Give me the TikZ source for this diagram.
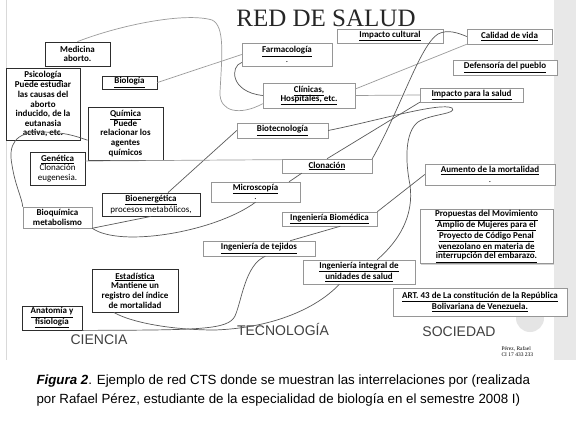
\documentclass[tikz,border=0pt]{standalone}
\usepackage{fontspec}
\setmainfont{Carlito}
\newfontfamily\arialf{Liberation Sans}
\newfontfamily\timesf{Liberation Serif}
\usetikzlibrary{shadows, calc}
\definecolor{bordeOscuro}{RGB}{45, 45, 45}
\definecolor{bordeClaro}{RGB}{150, 150, 150}
\definecolor{lineaGris}{RGB}{90, 90, 90}
\definecolor{lineaClara}{RGB}{155, 155, 155}
\definecolor{franjaGris}{RGB}{232, 232, 232}

\begin{document}
\begin{tikzpicture}[
    x=1pt, y=-1pt,
    caja/.style={
        rectangle,
        draw=bordeOscuro,
        line width=0.8pt,
        fill=white,
        align=center,
        inner sep=1pt,
        font=\fontsize{9}{9.6}\selectfont\bfseries,
        drop shadow={shadow xshift=1.2pt, shadow yshift=-1.2pt, fill=black!35}
    },
    cajaclara/.style={
        caja,
        draw=bordeClaro,
        line width=0.5pt
    },
    enlace/.style={
        draw=lineaGris,
        line width=0.7pt
    },
    enlaceclaro/.style={
        draw=lineaClara,
        line width=0.7pt
    },
    rotulo/.style={
        font=\arialf\fontsize{14}{14}\selectfont,
        text=black!75
    }
]

% Fondo y marco
\useasboundingbox (0,0) rectangle (576,431);
\fill[white] (0,0) rectangle (576,431);
\fill[franjaGris] (554,0) rectangle (576,360);
\draw[black!15, line width=1pt] (6,0) -- (6,360);
\fill[black!10] (530,318) circle (14);

% Titulo
\node[font=\timesf\fontsize{25}{27}\selectfont, text=black!85] (titulo) at (326,18) {RED DE SALUD};

% Ciencia
\node[caja, minimum width=65, minimum height=24] (medicina) at (77.5,54) {Medicina\\aborto.};
\node[caja, minimum width=74, minimum height=72] (psico) at (43,104) {\underline{Psicología}\\Puede estudiar\\las causas del\\aborto\\inducido,  de la\\eutanasia\\activa, etc.};
\node[caja, minimum width=55, minimum height=13] (biologia) at (129.5,82.5) {\underline{Biología}};
\node[caja, minimum width=75, minimum height=53] (quimica) at (125.5,133.5) {\underline{Química}\\Puede\\relacionar los\\agentes\\químicos};
\node[caja, minimum width=55, minimum height=33] (genetica) at (57.5,168.5) {\underline{Genética}\\{\mdseries Clonación}\\{\mdseries eugenesia.}};
\node[cajaclara, minimum width=69, minimum height=21] (bioquim) at (57.5,217.5) {Bioquímica\\metabolismo};
\node[caja, minimum width=98, minimum height=23] (bioener) at (151,204.5) {\underline{Bioenergética}\\{\mdseries procesos metabólicos,}};
\node[caja, minimum width=86, minimum height=43] (estad) at (135,290.5) {\underline{Estadística}\\Mantiene un\\registro del índice\\de mortalidad};
\node[caja, minimum width=60, minimum height=24] (anatomia) at (52,318) {\underline{Anatomía y}\\\underline{fisiología}};

% Tecnologia
\node[cajaclara, minimum width=90, minimum height=23] (farma) at (287,54.5) {\underline{Farmacología}\\{\mdseries .}};
\node[cajaclara, minimum width=92, minimum height=25] (clinicas) at (309,95.5) {\underline{Clínicas,}\\\underline{Hospitales, etc.}};
\node[cajaclara, minimum width=91, minimum height=15] (biotec) at (282.5,130.5) {\underline{Biotecnología}};
\node[cajaclara, minimum width=90, minimum height=14] (clonacion) at (327,166) {\underline{Clonación}};
\node[cajaclara, minimum width=89, minimum height=20] (micro) at (255.5,192) {\underline{Microscopía}\\{\mdseries .}};
\node[cajaclara, minimum width=95, minimum height=14] (ingbio) at (329.5,219) {\underline{Ingeniería Biomédica}};
\node[cajaclara, minimum width=112, minimum height=15] (ingtej) at (259,248.5) {\underline{Ingeniería de tejidos}};
\node[cajaclara, minimum width=112, minimum height=24] (ingint) at (359,272) {\underline{Ingeniería integral de}\\\underline{unidades de salud}};

% Sociedad
\node[cajaclara, minimum width=106, minimum height=14] (impcult) at (390,36) {\underline{Impacto cultural}};
\node[cajaclara, minimum width=85, minimum height=15] (calidad) at (509.5,36.5) {\underline{Calidad de vida}};
\node[cajaclara, minimum width=104, minimum height=15] (defensa) at (505,67.5) {\underline{Defensoría del pueblo}};
\node[cajaclara, minimum width=103, minimum height=14] (impsalud) at (471.5,95) {\underline{Impacto para la salud}};
\node[cajaclara, minimum width=130, minimum height=21] (aumento) at (490,174.5) {\underline{Aumento de la mortalidad}\\{\mdseries .}};
\node[cajaclara, minimum width=133, minimum height=53] (propuestas) at (486.5,236.5) {\underline{Propuestas del Movimiento}\\\underline{Amplio de Mujeres para el}\\\underline{Proyecto de Código Penal}\\\underline{venezolano en materia de}\\\underline{interrupción del embarazo.}};
\node[cajaclara, minimum width=174, minimum height=28] (art) at (480,302) {\underline{ART. 43 de La constitución de la República}\\\underline{Bolivariana de Venezuela.}};

% Rotulos
\node[rotulo] (ciencia) at (99,340) {CIENCIA};
\node[rotulo] (tecno) at (283,329) {TECNOLOGÍA};
\node[rotulo] (socie) at (459,332) {SOCIEDAD};
\node[font=\timesf\fontsize{5.5}{6.5}\selectfont, align=left, anchor=north west] (autor) at (498,343) {Pérez, Rafael\\CI 17 433 233};

% Enlaces
\draw[enlaceclaro] (medicina.north) .. controls (120,25) and (185,12) .. (212,20) .. controls (225,26) and (222,55) .. (220,92) .. controls (219,112) and (240,116) .. (clinicas.190);
\draw[enlaceclaro] (biologia.east) -- (farma.west);
\draw[enlace] (farma.190) .. controls (230,66) and (230,92) .. (clinicas.west);
\draw[enlaceclaro] (clinicas.8) -- (calidad.south west);
\draw[enlaceclaro] (clinicas.east) -- (impsalud.west);
\draw[enlace] (clonacion.north east) .. controls (400,110) and (420,45) .. (438,34) .. controls (448,29) and (458,33) .. (calidad.west);
\draw[enlace] (impsalud.south west) -- (clonacion.north);
\draw[enlace] (biotec.east) .. controls (380,120) and (440,102) .. (452,108) .. controls (458,114) and (430,114) .. (418,122) .. controls (405,132) and (405,160) .. (410,185) .. controls (414,215) and (400,240) .. (ingint.34);
\draw[enlace] (bioener.35) -- (biotec.west);
\draw[enlace] (bioquim.south east) -- (bioener.south);
\draw[enlace] (bioquim.south east) .. controls (120,248) and (215,232) .. (micro.south);
\draw[enlace] (quimica.190) .. controls (75,136) and (65,132) .. (40,132) .. controls (15,132) and (8,145) .. (12,165) .. controls (15,185) and (22,198) .. (bioquim.north west);
\draw[enlace] (micro.17) -- (clonacion.196);
\draw[enlaceclaro] (genetica.15) -- (clonacion.172);
\draw[enlace] (aumento.west) -- (ingbio.north east);
\draw[enlace] (ingbio.-34) -- (ingtej.14);
\draw[enlace] (ingtej.-51) .. controls (245,265) and (242,300) .. (235,316) .. controls (228,330) and (200,330) .. (anatomia.south east);
\draw[enlace] (ingint.212) .. controls (315,310) and (270,328) .. (215,330) .. controls (170,330) and (130,322) .. (estad.226);

% Leyenda
\node[anchor=west, align=left, font=\arialf\fontsize{13.3}{19}\selectfont] (leyenda) at (33,391) {\textbf{\textit{Figura 2}}. Ejemplo de red CTS donde se muestran las interrelaciones por (realizada\\por Rafael Pérez, estudiante de la especialidad de biología en el semestre 2008 I)};

\end{tikzpicture}
\end{document}
